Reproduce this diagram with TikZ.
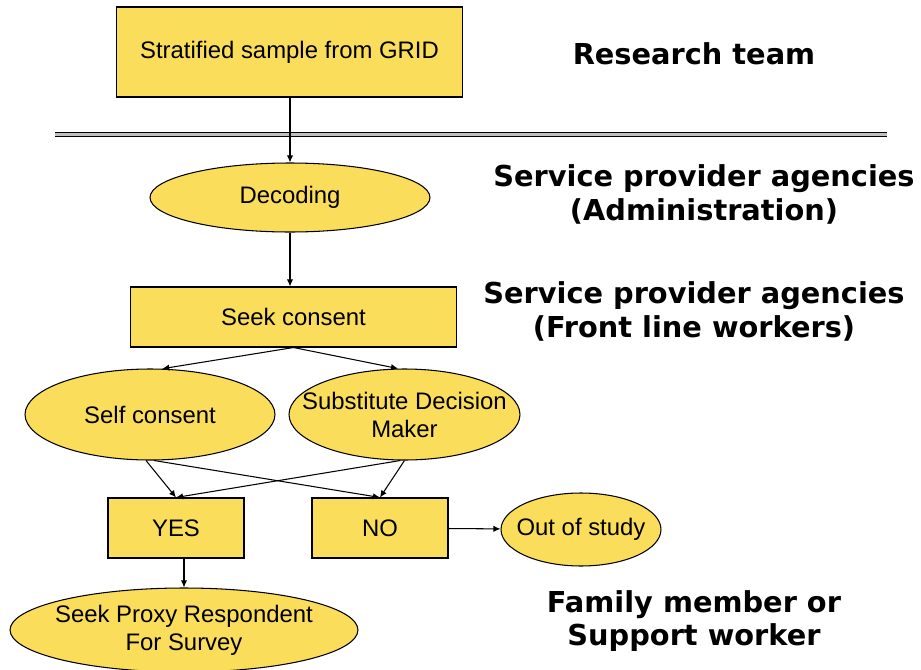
\documentclass[tikz,border=0pt]{standalone}
\usepackage{fontspec}
\setmainfont{Liberation Sans}
\newfontfamily\teamfont{DejaVu Sans}
\usetikzlibrary{shapes.geometric,arrows.meta}
\definecolor{boxyellow}{RGB}{250,221,90}
\tikzset{
    yellowbox/.style={draw, fill=boxyellow, rectangle, inner sep=0pt, line width=0.6pt,
        font=\fontsize{13.6}{15.9}\selectfont},
    yellowoval/.style={draw, fill=boxyellow, ellipse, inner sep=0pt, line width=0.6pt},
    ovaltext/.style={align=center, inner sep=0pt, font=\fontsize{13.6}{15.9}\selectfont},
    teamlabel/.style={align=center, font=\teamfont\bfseries\fontsize{16.4}{19.3}\selectfont},
    flowarrow/.style={-{Latex[length=4pt,width=3.6pt]}, line width=0.6pt}
}

\begin{document}
\begin{tikzpicture}[x=0.02cm, y=-0.02cm]
	    \useasboundingbox (0,0) rectangle (921,670);
	    \draw[line width=0.6pt, double=gray!50, double distance=1.2pt] (55,134.5) -- (887,134.5);
	    \node[yellowbox, minimum width=6.94cm, minimum height=1.8cm] (grid) at (289.5,52) {Stratified sample from GRID};
	    \node[yellowoval, minimum width=5.6cm, minimum height=1.38cm,
	          label={[ovaltext]center:Decoding}] (decoding) at (290,197.5) {};
	    \node[yellowbox, minimum width=6.54cm, minimum height=1.2cm] (consent) at (293.5,317) {Seek consent};
	    \node[yellowoval, minimum width=5cm, minimum height=1.82cm,
	          label={[ovaltext]center:Self consent}] (self) at (150,414.5) {};
	    \node[yellowoval, minimum width=4.62cm, minimum height=1.82cm,
	          label={[ovaltext]center:Substitute Decision\\Maker}] (sdm) at (404.5,414.5) {};
	    \node[yellowbox, minimum width=2.72cm, minimum height=1.2cm] (yes) at (176,528) {YES};
	    \node[yellowbox, minimum width=2.72cm, minimum height=1.2cm] (no) at (380,528) {NO};
	    \node[yellowoval, minimum width=3.2cm, minimum height=1.46cm,
	          label={[ovaltext]center:Out of study}] (out) at (581,529.5) {};
	    \node[yellowoval, minimum width=6.96cm, minimum height=1.68cm,
	          label={[ovaltext]center:Seek Proxy Respondent\\For Survey}] (proxy) at (184,630) {};

	    \draw[flowarrow] (grid.south -| decoding.north) -- (decoding.north);
	    \draw[flowarrow] (decoding.south) -- (decoding.south |- consent.north);
	    \draw[flowarrow] (consent.south) -- (self.75);
	    \draw[flowarrow] (consent.south) -- (sdm.98);
	    \draw[flowarrow] (self.265) -- (yes.north);
	    \draw[flowarrow] (self.275) -- (no.north);
	    \draw[flowarrow] (sdm.265) -- (yes.north);
	    \draw[flowarrow] (sdm.south) -- (no.north);
	    \draw[flowarrow] (no) -- (out);
	    \draw[flowarrow] (yes.south -| proxy.north) -- (proxy.north);

	    \node[teamlabel] (research) at (694,54) {Research team};
	    \node[teamlabel] (admin) at (704,194) {Service provider agencies\\(Administration)};
	    \node[teamlabel] (front) at (694,311) {Service provider agencies\\(Front line workers)};
	    \node[teamlabel] (family) at (694,621) {Family member or\\Support worker};
	\end{tikzpicture}
\end{document}
